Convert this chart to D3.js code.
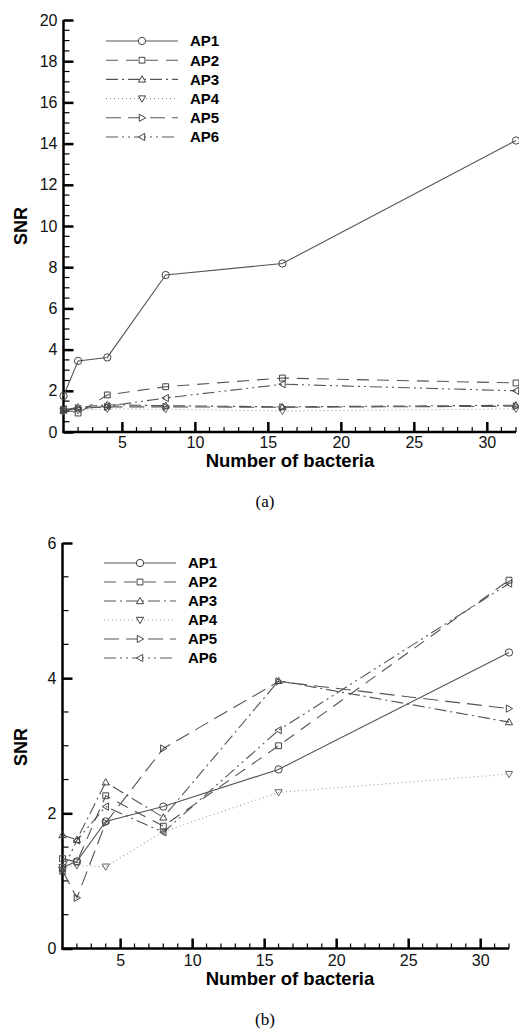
<!DOCTYPE html>
<html>
<head>
  <meta charset="utf-8">
  <title>SNR vs number of bacteria</title>
  <script src="https://cdn.jsdelivr.net/npm/d3@7"></script>
  <style>
    body { margin: 0; background: #fff; }
    text { font-family: "Liberation Sans", Arial, sans-serif; }
  </style>
</head>
<body>
<svg id="chart" width="519" height="1029"></svg>
<script>
// x values shared by both panels
var bacteria = [1, 2, 4, 8, 16, 32];
var seriesNames = ["AP1", "AP2", "AP3", "AP4", "AP5", "AP6"];

// panel (a)
var snrA_AP1 = [1.75, 3.45, 3.62, 7.62, 8.18, 14.15];
var snrA_AP2 = [1.10, 0.92, 1.80, 2.20, 2.62, 2.38];
var snrA_AP3 = [1.05, 1.20, 1.32, 1.28, 1.22, 1.30];
var snrA_AP4 = [1.00, 1.05, 1.12, 1.10, 1.02, 1.12];
var snrA_AP5 = [1.05, 1.15, 1.22, 1.22, 1.20, 1.25];
var snrA_AP6 = [1.10, 1.12, 1.25, 1.65, 2.32, 2.00];

// panel (b)
var snrB_AP1 = [1.20, 1.29, 1.88, 2.10, 2.65, 4.38];
var snrB_AP2 = [1.33, 1.28, 2.26, 1.81, 3.00, 5.45];
var snrB_AP3 = [1.68, 1.61, 2.46, 1.94, 3.96, 3.35];
var snrB_AP4 = [1.20, 1.23, 1.21, 1.73, 2.31, 2.58];
var snrB_AP5 = [1.15, 0.75, 1.86, 2.96, 3.95, 3.55];
var snrB_AP6 = [1.15, 1.60, 2.10, 1.72, 3.23, 5.40];

var xTicks = [5, 10, 15, 20, 25, 30];
var yTicksA = [0, 2, 4, 6, 8, 10, 12, 14, 16, 18, 20];
var yTicksB = [0, 2, 4, 6];

// line styles per series
var dashes = ["none", "12,8", "12,4,2,4", "1,3", "15,7", "12,4,2,4,2,4"];
var strokes = ["#555", "#555", "#555", "#999", "#555", "#555"];
var shapes = [d3.symbolCircle, d3.symbolSquare, "up", "down", "right", "left"];

var svg = d3.select("#chart");

function marker(g, shape, x, y) {
  if (typeof shape !== "string") {
    g.append("path")
      .attr("d", d3.symbol().type(shape).size(shape === d3.symbolCircle ? 42 : 34)())
      .attr("transform", "translate(" + x + "," + y + ")");
    return;
  }
  var s = 3.6, pts;
  if (shape === "up") pts = [[0, -s], [s, s * 0.75], [-s, s * 0.75]];
  if (shape === "down") pts = [[0, s], [s, -s * 0.75], [-s, -s * 0.75]];
  if (shape === "right") pts = [[s, 0], [-s * 0.75, s], [-s * 0.75, -s]];
  if (shape === "left") pts = [[-s, 0], [s * 0.75, s], [s * 0.75, -s]];
  g.append("path")
    .attr("d", "M" + pts.map(function(p) { return (x + p[0]) + "," + (y + p[1]); }).join("L") + "Z");
}

function drawPanel(cfg) {
  var x = d3.scaleLinear().domain([1, 32]).range([cfg.x0, cfg.x1]);
  var y = d3.scaleLinear().domain([0, cfg.yMax]).range([cfg.y0, cfg.y1]);
  var g = svg.append("g");

  // minor ticks
  var xMinor = d3.range(2, 33).filter(function(v) { return v % 5 !== 0; });
  var yMinor = d3.range(0.5, cfg.yMax, 0.5).filter(function(v) { return Math.abs(v % 2) > 1e-6; });

  g.append("g").selectAll("line").data(xMinor).join("line")
    .attr("x1", x).attr("x2", x)
    .attr("y1", cfg.y0).attr("y2", cfg.y0 - 5)
    .attr("stroke", "#000").attr("stroke-width", 1.2);
  g.append("g").selectAll("line").data(yMinor).join("line")
    .attr("y1", y).attr("y2", y)
    .attr("x1", cfg.x0).attr("x2", cfg.x0 + 6)
    .attr("stroke", "#000").attr("stroke-width", 1.2);

  // major axes
  var xAxis = d3.axisBottom(x).tickValues(xTicks).tickSize(-10).tickPadding(cfg.xPad).tickSizeOuter(0);
  var yAxis = d3.axisLeft(y).tickValues(cfg.yTicks).tickSize(-10).tickPadding(6)
    .tickSizeOuter(0).tickFormat(d3.format("d"));
  var gx = g.append("g").attr("transform", "translate(0," + cfg.y0 + ")").call(xAxis);
  var gy = g.append("g").attr("transform", "translate(" + cfg.x0 + ",0)").call(yAxis);
  [gx, gy].forEach(function(a) {
    a.select(".domain").attr("stroke", "#000").attr("stroke-width", 2.5);
    a.selectAll(".tick line").attr("stroke", "#000").attr("stroke-width", 2.5);
    a.selectAll(".tick text").attr("font-size", 16).attr("fill", "#111")
      .style("font-family", "'Liberation Sans', Arial, sans-serif");
  });
  gx.select(".domain").attr("d", "M" + (cfg.x0 - 1) + ",0H" + cfg.x1);
  gy.select(".domain").attr("d", "M0," + (cfg.y0 + 1) + "V" + cfg.y1);

  // series
  var line = d3.line().x(function(d, i) { return x(bacteria[i]); }).y(function(d) { return y(d); });
  cfg.series.forEach(function(vals, k) {
    g.append("path").datum(vals)
      .attr("d", line)
      .attr("fill", "none")
      .attr("stroke", strokes[k])
      .attr("stroke-width", 1.1)
      .attr("stroke-dasharray", dashes[k]);
    var mg = g.append("g").attr("fill", "none").attr("stroke", strokes[k] === "#999" ? "#666" : "#444").attr("stroke-width", 1);
    vals.forEach(function(v, i) { marker(mg, shapes[k], x(bacteria[i]), y(v)); });
  });

  // legend
  var lg = g.append("g");
  seriesNames.forEach(function(name, k) {
    var ly = cfg.legY + k * cfg.legStep;
    lg.append("line")
      .attr("x1", cfg.legX).attr("x2", cfg.legX + 72)
      .attr("y1", ly).attr("y2", ly)
      .attr("stroke", strokes[k]).attr("stroke-width", 1.1)
      .attr("stroke-dasharray", dashes[k]);
    var mg = lg.append("g").attr("fill", "#fff").attr("stroke", "#444").attr("stroke-width", 1);
    marker(mg, shapes[k], cfg.legX + 36, ly);
    lg.append("text")
      .attr("x", cfg.legX + 84).attr("y", ly)
      .attr("dy", "0.36em")
      .attr("font-size", 15).attr("font-weight", "bold")
      .text(name);
  });

  // axis titles
  g.append("text")
    .attr("x", 290).attr("y", cfg.xTitleY)
    .attr("text-anchor", "middle")
    .attr("font-size", 18.5).attr("font-weight", "bold")
    .text("Number of bacteria");
  g.append("text")
    .attr("transform", "translate(" + cfg.yTitleX + "," + cfg.yTitleY + ") rotate(-90)")
    .attr("text-anchor", "middle")
    .attr("font-size", 18).attr("font-weight", "bold")
    .text("SNR");

  // caption
  g.append("text")
    .attr("x", 265).attr("y", cfg.capY)
    .attr("text-anchor", "middle")
    .attr("font-size", 17)
    .style("font-family", "'Liberation Serif', 'Times New Roman', serif")
    .text(cfg.caption);
}

drawPanel({
  x0: 63.5, x1: 516, y0: 432, y1: 20, yMax: 20,
  yTicks: yTicksA, xPad: 4.5,
  series: [snrA_AP1, snrA_AP2, snrA_AP3, snrA_AP4, snrA_AP5, snrA_AP6],
  legX: 106, legY: 41, legStep: 19.2,
  xTitleY: 467, yTitleX: 27, yTitleY: 226,
  capY: 507, caption: "(a)"
});

drawPanel({
  x0: 62.5, x1: 509, y0: 948.5, y1: 543, yMax: 6,
  yTicks: yTicksB, xPad: 6,
  series: [snrB_AP1, snrB_AP2, snrB_AP3, snrB_AP4, snrB_AP5, snrB_AP6],
  legX: 104, legY: 563, legStep: 19,
  xTitleY: 985, yTitleX: 27, yTitleY: 747,
  capY: 1025, caption: "(b)"
});
</script>
</body>
</html>
